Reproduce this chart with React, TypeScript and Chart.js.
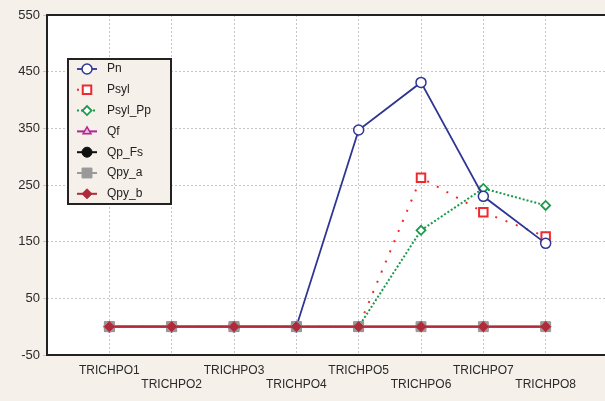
import React, { useEffect, useRef } from "react";
import { Chart, registerables } from "chart.js";
import { drawPoint } from "chart.js/helpers";

Chart.register(...registerables);

const categories = ["TRICHPO1", "TRICHPO2", "TRICHPO3", "TRICHPO4", "TRICHPO5", "TRICHPO6", "TRICHPO7", "TRICHPO8"];
const pn = [0, 0, 0, 0, 347, 431, 230, 147];
const psyl = [0, 0, 0, 0, 0, 263, 202, 159];
const psylPp = [0, 0, 0, 0, 0, 170, 244, 214];
const qf = [0, 0, 0, 0, 0, 0, 0, 0];
const qpFs = [0, 0, 0, 0, 0, 0, 0, 0];
const qpyA = [0, 0, 0, 0, 0, 0, 0, 0];
const qpyB = [0, 0, 0, 0, 0, 0, 0, 0];
const yTicks = [-50, 50, 150, 250, 350, 450, 550];

const BG = "#f5f0ea";
const GRID = "#c6c6c6";
const FONT = "'Liberation Sans', Arial, sans-serif";

const toPts = (arr: number[]) => arr.map((v, i) => ({ x: i + 1, y: v }));

const bgPlugin = {
  id: "bgPlugin",
  beforeDraw(chart: any) {
    const { ctx, chartArea: a } = chart;
    ctx.save();
    ctx.fillStyle = BG;
    ctx.fillRect(0, 0, chart.width, chart.height);
    ctx.fillStyle = "#ffffff";
    ctx.fillRect(a.left, a.top, a.right - a.left, a.bottom - a.top);
    ctx.restore();
  },
  afterDatasetsDraw(chart: any) {
    const { ctx, chartArea: a } = chart;
    ctx.save();
    ctx.strokeStyle = "#222";
    ctx.lineWidth = 2;
    ctx.strokeRect(a.left, a.top, a.right - a.left, a.bottom - a.top);
    ctx.restore();
  },
};

const legendPlugin = {
  id: "boxLegend",
  afterDraw(chart: any) {
    const { ctx } = chart;
    const x0 = 68, y0 = 59, w = 103, h = 145;
    ctx.save();
    ctx.fillStyle = BG;
    ctx.fillRect(x0, y0, w, h);
    ctx.strokeStyle = "#222";
    ctx.lineWidth = 2;
    ctx.strokeRect(x0, y0, w, h);
    chart.data.datasets.forEach((ds: any, i: number) => {
      const y = 69 + i * 20.8;
      ctx.save();
      ctx.strokeStyle = ds.borderColor;
      ctx.lineWidth = ds.borderWidth;
      ctx.setLineDash(ds.borderDash || []);
      ctx.beginPath();
      ctx.moveTo(77, y);
      ctx.lineTo(97, y);
      ctx.stroke();
      ctx.setLineDash([]);
      ctx.fillStyle = ds.pointBackgroundColor;
      ctx.strokeStyle = ds.pointBorderColor;
      ctx.lineWidth = ds.pointBorderWidth;
      drawPoint(ctx, { pointStyle: ds.pointStyle, radius: ds.pointRadius, rotation: 0, borderWidth: ds.pointBorderWidth }, 87, y);
      ctx.restore();
      ctx.fillStyle = "#222";
      ctx.font = `12px ${FONT}`;
      ctx.textBaseline = "middle";
      ctx.textAlign = "left";
      ctx.fillText(ds.label, 107, y);
    });
    ctx.restore();
  },
};

export default function App() {
  const ref = useRef<HTMLCanvasElement | null>(null);
  useEffect(() => {
    if (!ref.current) return;
    document.body.style.overflow = "hidden";
    const chart = new Chart(ref.current, {
      type: "line",
      data: {
        datasets: [
          { label: "Pn", data: toPts(pn), borderColor: "#2e3592", borderWidth: 1.8, pointStyle: "circle", pointRadius: 5, pointBackgroundColor: "#ffffff", pointBorderColor: "#2e3592", pointBorderWidth: 1.5, order: 0 },
          { label: "Psyl", data: toPts(psyl), borderColor: "#ee2a2f", borderWidth: 2, borderDash: [2, 9], pointStyle: "rect", pointRadius: 6, pointBackgroundColor: "#ffffff", pointBorderColor: "#ee2a2f", pointBorderWidth: 2, order: 1 },
          { label: "Psyl_Pp", data: toPts(psylPp), borderColor: "#1b9a4b", borderWidth: 2, borderDash: [2, 2], pointStyle: "rectRot", pointRadius: 4.5, pointBackgroundColor: "#ffffff", pointBorderColor: "#1b9a4b", pointBorderWidth: 1.8, order: 2 },
          { label: "Qf", data: toPts(qf), borderColor: "#b5248f", borderWidth: 2, pointStyle: "triangle", pointRadius: 4.5, pointBackgroundColor: "#e9b7d9", pointBorderColor: "#b5248f", pointBorderWidth: 1.5, order: 3 },
          { label: "Qp_Fs", data: toPts(qpFs), borderColor: "#111111", borderWidth: 2, pointStyle: "circle", pointRadius: 5, pointBackgroundColor: "#111111", pointBorderColor: "#111111", pointBorderWidth: 1, order: 4 },
          { label: "Qpy_a", data: toPts(qpyA), borderColor: "#9a9a9a", borderWidth: 2, pointStyle: "rect", pointRadius: 7, pointBackgroundColor: "#999999", pointBorderColor: "#999999", pointBorderWidth: 1, order: -1 },
          { label: "Qpy_b", data: toPts(qpyB), borderColor: "#b02a3a", borderWidth: 2, pointStyle: "rectRot", pointRadius: 5, pointBackgroundColor: "#b02a3a", pointBorderColor: "#b02a3a", pointBorderWidth: 1, order: -2 },
        ],
      },
      plugins: [bgPlugin, legendPlugin],
      options: {
        animation: false,
        responsive: false,
        maintainAspectRatio: false,
        layout: { padding: { left: 0, top: 15, right: 12, bottom: 0 } },
        plugins: { legend: { display: false }, tooltip: { enabled: false } },
        scales: {
          x: {
            type: "linear",
            min: 0,
            max: 9,
            afterBuildTicks: (scale: any) => {
              scale.ticks = [0, 1, 2, 3, 4, 5, 6, 7, 8, 9].map((v) => ({ value: v }));
            },
            afterFit: (scale: any) => {
              scale.height = 46;
            },
            border: { display: false, dash: [2, 2] },
            grid: {
              color: (c: any) => (c.tick && c.tick.value >= 1 && c.tick.value <= 8 ? GRID : "rgba(0,0,0,0)"),
              tickLength: 4,
              tickColor: "rgba(0,0,0,0)",
              lineWidth: 1,
            },
            ticks: {
              autoSkip: false,
              maxRotation: 0,
              padding: 4,
              color: "#2a2a2a",
              font: { family: FONT, size: 12 },
              callback: (v: any) => {
                const i = Math.round(Number(v));
                if (i < 1 || i > 8) return "";
                const lab = categories[i - 1];
                return i % 2 === 0 ? ["", lab] : lab;
              },
            },
          },
          y: {
            min: -50,
            max: 550,
            afterBuildTicks: (scale: any) => {
              scale.ticks = yTicks.map((v) => ({ value: v }));
            },
            afterFit: (scale: any) => {
              scale.width = 47;
            },
            border: { display: false, dash: [2, 2] },
            grid: {
              color: GRID,
              tickLength: 4,
              tickColor: GRID,
              lineWidth: 1,
            },
            ticks: {
              padding: 3,
              color: "#2a2a2a",
              font: { family: FONT, size: 13 },
            },
          },
        },
      },
    } as any);
    return () => chart.destroy();
  }, []);
  return (
    <div style={{ position: "fixed", left: 0, top: 0, width: 620, height: 401, background: BG }}>
      <canvas ref={ref} width={620} height={401} style={{ width: 620, height: 401, display: "block" }} />
    </div>
  );
}
